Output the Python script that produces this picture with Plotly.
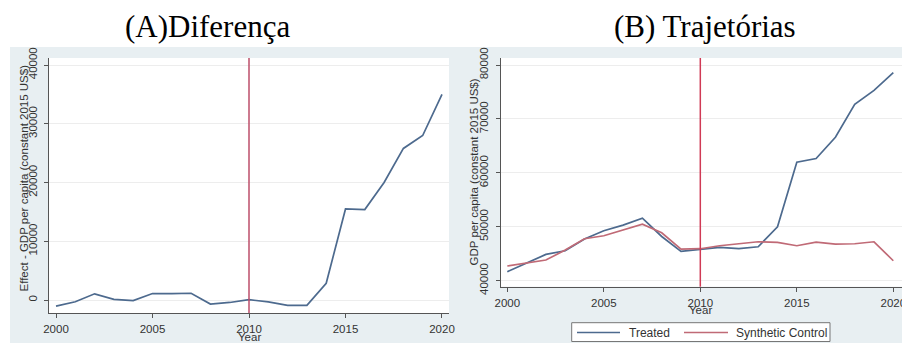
import plotly.graph_objects as go

W, H = 902, 343

years = list(range(2000, 2021))

# (A) treatment effect: treated minus synthetic control, GDP per capita
effect = [-1050, -300, 1050, 100, -100, 1100, 1100, 1150, -700, -420, 50,
          -320, -900, -900, 2850, 15500, 15400, 20000, 25800, 28000, 35000]

# (B) trajectories, GDP per capita (constant 2015 US$)
treated = [41670, 43200, 44880, 45560, 47720, 49260, 50310, 51600, 48200, 45430, 45860,
           46170, 45930, 46300, 50000, 61980, 62650, 66600, 72700, 75300, 78600]
synthetic = [42720, 43330, 43830, 45680, 47780, 48330, 49380, 50490, 48890, 45860, 45930,
             46480, 46850, 47220, 47100, 46480, 47160, 46790, 46850, 47220, 43700]

series_names = ["Treated", "Synthetic Control"]

treat_year = 2010
x_ticks = [2000, 2005, 2010, 2015, 2020]
ya_ticks = [0, 10000, 20000, 30000, 40000]
yb_ticks = [40000, 50000, 60000, 70000, 80000]

BG = "#E8EFF2"
BLUE = "#4D6A8E"
RED = "#C06A76"
AXIS = "#555555"
GRID = "#EDEDED"
SANS = "Liberation Sans, Arial, sans-serif"
TICKFONT = dict(family=SANS, size=11.5, color="#333333")


def px_x(p):
    return p / W


def px_y(p):
    return 1 - p / H


fig = go.Figure()

fig.add_trace(go.Scatter(x=years, y=effect, mode="lines", xaxis="x", yaxis="y",
                         line=dict(color=BLUE, width=1.7), showlegend=False))
fig.add_trace(go.Scatter(x=years, y=treated, mode="lines", xaxis="x2", yaxis="y2",
                         name=series_names[0], line=dict(color=BLUE, width=1.7),
                         showlegend=False))
fig.add_trace(go.Scatter(x=years, y=synthetic, mode="lines", xaxis="x2", yaxis="y2",
                         name=series_names[1], line=dict(color=RED, width=1.7),
                         showlegend=False))

axis_common = dict(showline=True, linecolor=AXIS, linewidth=1, ticks="outside",
                   ticklen=4, tickcolor=AXIS, tickfont=TICKFONT, zeroline=False,
                   mirror=False, tickformat="d", automargin=False,
                   ticklabeloverflow="allow")

fig.update_layout(
    width=W, height=H,
    margin=dict(l=0, r=0, t=0, b=0, autoexpand=False),
    paper_bgcolor=BG,
    plot_bgcolor="white",
    showlegend=False,
    xaxis=dict(domain=[px_x(49), px_x(449)], range=[1999.637, 2020.363],
               tickvals=x_ticks, showgrid=False, anchor="y",
               ticklabelstandoff=1, **axis_common),
    yaxis=dict(domain=[px_y(313), px_y(58)], range=[-2213, 41191],
               tickvals=ya_ticks, tickangle=-90, showgrid=True, gridcolor=GRID,
               gridwidth=1, anchor="x", ticklabelstandoff=2, **axis_common),
    xaxis2=dict(domain=[px_x(500.7), 1.0], range=[1999.658, 2020.45],
                tickvals=x_ticks, showgrid=False, anchor="y2",
                ticklabelstandoff=1, **axis_common),
    yaxis2=dict(domain=[px_y(286.7), px_y(58)], range=[38887, 81299],
                tickvals=yb_ticks, tickangle=-90, showgrid=True, gridcolor=GRID,
                gridwidth=1, anchor="x2", ticklabelstandoff=3, **axis_common),
    shapes=[
        # white page around the shaded panels
        dict(type="rect", xref="paper", yref="paper", x0=0, x1=1.0,
             y0=px_y(47), y1=1.0, fillcolor="white", line=dict(width=0), layer="below"),
        dict(type="rect", xref="paper", yref="paper", x0=0, x1=px_x(10),
             y0=0, y1=1.0, fillcolor="white", line=dict(width=0), layer="below"),
        # treatment year markers
        dict(type="line", xref="x", yref="paper", x0=treat_year, x1=treat_year,
             y0=px_y(313), y1=px_y(58), line=dict(color="#BC4E6A", width=1.5)),
        dict(type="line", xref="x2", yref="paper", x0=treat_year, x1=treat_year,
             y0=px_y(286.7), y1=px_y(58), line=dict(color="#D03A55", width=1.5)),
        # legend box and keys for panel B
        dict(type="rect", xref="paper", yref="paper", x0=px_x(571.7), x1=px_x(830),
             y0=px_y(341.5), y1=px_y(322.7), fillcolor="white",
             line=dict(color="#777777", width=1)),
        dict(type="line", xref="paper", yref="paper", x0=px_x(577), x1=px_x(620),
             y0=px_y(332.5), y1=px_y(332.5), line=dict(color=BLUE, width=1.6)),
        dict(type="line", xref="paper", yref="paper", x0=px_x(684), x1=px_x(728),
             y0=px_y(332.5), y1=px_y(332.5), line=dict(color=RED, width=1.6)),
    ],
    annotations=[
        dict(text="(A)Diferença", xref="paper", yref="paper", x=px_x(207.5), y=px_y(26),
             xanchor="center", yanchor="middle", showarrow=False,
             font=dict(family="Liberation Serif, Times New Roman, serif", size=31, color="black")),
        dict(text="(B) Trajetórias", xref="paper", yref="paper", x=px_x(705), y=px_y(26),
             xanchor="center", yanchor="middle", showarrow=False,
             font=dict(family="Liberation Serif, Times New Roman, serif", size=31, color="black")),
        dict(text="Effect - GDP per capita (constant 2015 US$)", xref="paper", yref="paper",
             x=px_x(23.5), y=px_y(178), textangle=-90, xanchor="center", yanchor="middle",
             showarrow=False, font=TICKFONT),
        dict(text="GDP per capita (constant 2015 US$)", xref="paper", yref="paper",
             x=px_x(473.5), y=px_y(172), textangle=-90, xanchor="center", yanchor="middle",
             showarrow=False, font=TICKFONT),
        dict(text="Year", xref="paper", yref="paper", x=px_x(249), y=px_y(336.5),
             xanchor="center", yanchor="middle", showarrow=False, font=TICKFONT),
        dict(text="Year", xref="paper", yref="paper", x=px_x(700.7), y=px_y(310),
             xanchor="center", yanchor="middle", showarrow=False, font=TICKFONT),
        dict(text=series_names[0], xref="paper", yref="paper", x=px_x(627), y=px_y(332.5),
             xanchor="left", yanchor="middle", showarrow=False,
             font=dict(family=SANS, size=12, color="#333333")),
        dict(text=series_names[1], xref="paper", yref="paper", x=px_x(734), y=px_y(332.5),
             xanchor="left", yanchor="middle", showarrow=False,
             font=dict(family=SANS, size=12, color="#333333")),
    ],
)

fig.write_html("out.html")
